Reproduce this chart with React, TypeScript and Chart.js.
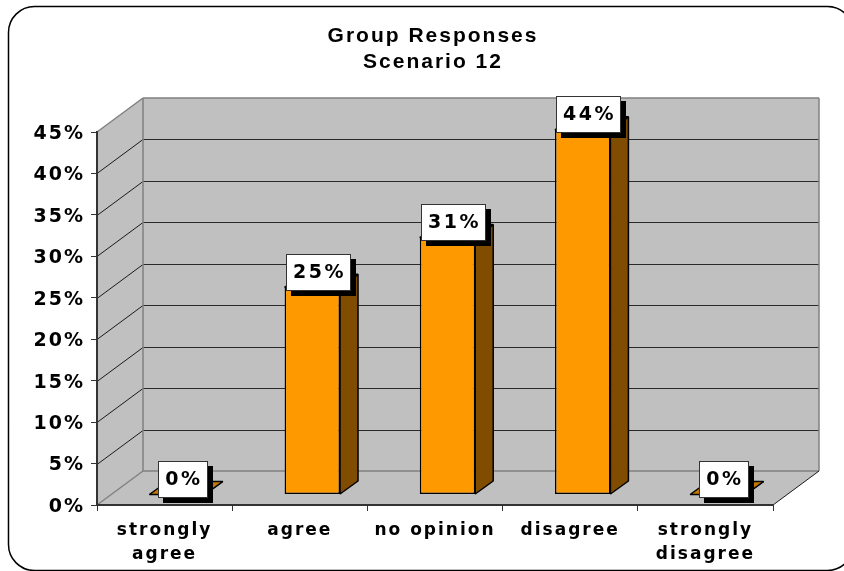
import React, { useEffect, useRef } from "react";
import { Chart, registerables } from "chart.js";

Chart.register(...registerables);

const categories = [["strongly", "agree"], "agree", "no opinion", "disagree", ["strongly", "disagree"]];
const responses = [0, 25, 31, 44, 0];
const valueLabels = ["0%", "25%", "31%", "44%", "0%"];
const titleLines = ["Group Responses", "Scenario 12"];

const FAMILY = "'DejaVu Sans', Verdana, sans-serif";
const DEPTH = { x: 46, y: 34 };
const BAR_SHIFT = { x: 12.5, y: 10.5 };
const BAR_DEPTH = { x: 18, y: 13 };

function poly(ctx: CanvasRenderingContext2D, pts: number[][], fill?: string, stroke?: string, w = 1) {
  ctx.beginPath();
  pts.forEach(([x, y], i) => (i ? ctx.lineTo(x, y) : ctx.moveTo(x, y)));
  ctx.closePath();
  if (fill) {
    ctx.fillStyle = fill;
    ctx.fill();
  }
  if (stroke) {
    ctx.strokeStyle = stroke;
    ctx.lineWidth = w;
    ctx.lineJoin = "bevel";
    ctx.stroke();
  }
}

function line(ctx: CanvasRenderingContext2D, x1: number, y1: number, x2: number, y2: number, color: string, w = 1) {
  ctx.beginPath();
  ctx.moveTo(x1, y1);
  ctx.lineTo(x2, y2);
  ctx.strokeStyle = color;
  ctx.lineWidth = w;
  ctx.stroke();
}

const frame3d = {
  id: "frame3d",
  afterLayout(chart: any) {
    // the title is centred on the whole picture, not on the space left of the right margin
    chart.titleBlock.right = chart.width;
  },
  beforeDraw(chart: any) {
    const { ctx, chartArea: a, scales, width, height } = chart;
    const dx = DEPTH.x;
    const dy = DEPTH.y;
    ctx.save();
    ctx.fillStyle = "#ffffff";
    ctx.fillRect(0, 0, width, height);
    ctx.beginPath();
    ctx.roundRect(8.5, 6.5, 845, 564, 26);
    ctx.strokeStyle = "#000000";
    ctx.lineWidth = 1.5;
    ctx.stroke();
    const wall = "#c0c0c0";
    const edge = "#808080";
    poly(ctx, [[a.left + dx, a.top - dy], [a.right + dx, a.top - dy], [a.right + dx, a.bottom - dy], [a.left + dx, a.bottom - dy]], wall);
    poly(ctx, [[a.left, a.top], [a.left + dx, a.top - dy], [a.left + dx, a.bottom - dy], [a.left, a.bottom]], wall);
    poly(ctx, [[a.left, a.bottom], [a.left + dx, a.bottom - dy], [a.right + dx, a.bottom - dy], [a.right, a.bottom]], wall);
    scales.y.ticks.forEach((t: any) => {
      const y = Math.round(scales.y.getPixelForValue(t.value)) + 0.5;
      if (t.value > 0 && t.value < 45) {
        line(ctx, a.left, y, a.left + dx, y - dy, "#1a1a1a");
        line(ctx, a.left + dx, y - dy, a.right + dx, y - dy, "#2a2a2a");
      }
    });
    line(ctx, a.left, a.top, a.left + dx, a.top - dy, edge, 1.5);
    line(ctx, a.left + dx, a.top - dy, a.right + dx, a.top - dy, edge, 1.5);
    line(ctx, a.right + dx, a.top - dy, a.right + dx, a.bottom - dy, edge, 1.5);
    line(ctx, a.left + dx, a.top - dy, a.left + dx, a.bottom - dy, edge, 1.5);
    line(ctx, a.left, a.bottom, a.left + dx, a.bottom - dy, edge, 1.5);
    line(ctx, a.left + dx, a.bottom - dy, a.right + dx, a.bottom - dy, edge, 1.5);
    line(ctx, a.right, a.bottom, a.right + dx, a.bottom - dy, "#1a1a1a");
    ctx.restore();
    ctx.letterSpacing = "2px";
  },
  beforeDatasetDraw(chart: any) {
    chart.ctx.save();
    chart.ctx.translate(BAR_SHIFT.x, -BAR_SHIFT.y);
  },
  afterDatasetDraw(chart: any, args: any) {
    const { ctx } = chart;
    const d = BAR_DEPTH;
    args.meta.data.forEach((el: any) => {
      const { x, y, base, width } = el.getProps(["x", "y", "base", "width"], true);
      const l = x - width / 2;
      const r = x + width / 2;
      poly(ctx, [[r, y], [r + d.x, y - d.y], [r + d.x, base - d.y], [r, base]], "#7f4c00", "#000000", 1.5);
      poly(ctx, [[l, y], [l + d.x, y - d.y], [r + d.x, y - d.y], [r, y]], "#c57800", "#000000", 1.5);
    });
    ctx.restore();
  },
  afterDatasetsDraw(chart: any) {
    const { ctx } = chart;
    const meta = chart.getDatasetMeta(0);
    ctx.save();
    ctx.font = `bold 19px ${FAMILY}`;
    ctx.letterSpacing = "2.5px";
    ctx.textAlign = "center";
    ctx.textBaseline = "middle";
    meta.data.forEach((el: any, i: number) => {
      const { x, y } = el.getProps(["x", "y"], true);
      const text = valueLabels[i];
      const w = text.length > 2 ? 65 : 50;
      const h = 37;
      const cx = x + BAR_SHIFT.x + 6;
      const bottom = y - BAR_SHIFT.y + 3.5;
      const left = Math.round(cx - w / 2);
      const top = Math.round(bottom - h);
      ctx.fillStyle = "#000000";
      ctx.fillRect(left + 5, top + 5, w, h);
      ctx.fillStyle = "#ffffff";
      ctx.fillRect(left, top, w, h);
      ctx.strokeStyle = "#333333";
      ctx.lineWidth = 1;
      ctx.strokeRect(left + 0.5, top + 0.5, w - 1, h - 1);
      ctx.fillStyle = "#000000";
      ctx.fillText(text, left + w / 2 + 1, top + h / 2 + 1);
    });
    ctx.restore();
  },
};

export default function App() {
  const ref = useRef<HTMLCanvasElement>(null);
  useEffect(() => {
    const chart = new Chart(ref.current!, {
      type: "bar",
      plugins: [frame3d],
      data: {
        labels: categories as any,
        datasets: [
          {
            label: "Group Responses",
            data: responses,
            backgroundColor: "#ff9900",
            borderColor: "#000000",
            borderWidth: 1.5,
            borderSkipped: false,
            barPercentage: 0.41,
            categoryPercentage: 1,
            clip: false as any,
          },
        ],
      },
      options: {
        responsive: false,
        animation: false,
        layout: { padding: { left: 22, right: 71, top: 23, bottom: 0 } },
        plugins: {
          legend: { display: false },
          tooltip: { enabled: false },
          title: {
            display: true,
            text: titleLines,
            color: "#000000",
            font: { family: "'Liberation Sans', Arial, sans-serif", size: 21, weight: "bold", lineHeight: 26 / 21 },
            padding: { top: 0, bottom: 57 },
          },
        },
        scales: {
          x: {
            grid: { display: true, drawOnChartArea: false, tickLength: 6, color: "#333333", offset: true },
            border: { color: "#333333", width: 2 },
            ticks: {
              color: "#000000",
              font: { family: FAMILY, size: 17, weight: "bold", lineHeight: 1.4 },
              padding: 8,
              maxRotation: 0,
              autoSkip: false,
            },
            afterFit: (s: any) => {
              s.height = 66;
            },
          },
          y: {
            min: 0,
            max: 45,
            grid: { display: true, drawOnChartArea: false, tickLength: 6, color: "#333333" },
            border: { color: "#333333", width: 2 },
            ticks: {
              stepSize: 5,
              color: "#000000",
              font: { family: FAMILY, size: 19, weight: "bold" },
              padding: 6,
              labelOffset: 2,
              callback: (v: any) => `${v}%`,
            },
            afterFit: (s: any) => {
              s.width = 75;
            },
          },
        },
      },
    });
    return () => chart.destroy();
  }, []);
  return (
    <div style={{ position: "fixed", left: 0, top: 0 }}>
      <canvas ref={ref} width={844} height={571} style={{ display: "block" }} />
    </div>
  );
}
